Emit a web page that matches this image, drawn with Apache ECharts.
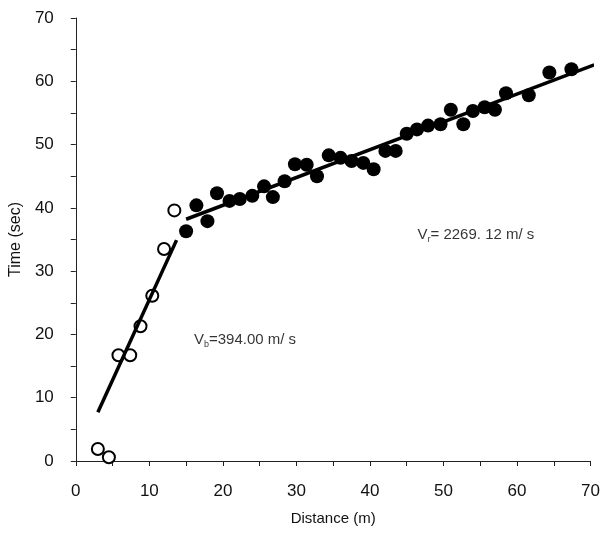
<!DOCTYPE html>
<html><head><meta charset="utf-8">
<script src="https://cdn.jsdelivr.net/npm/echarts@6/dist/echarts.min.js"></script>
<style>html,body{margin:0;padding:0;background:#fff}#c{width:603px;height:534px}</style>
</head><body><div id="c"></div>
<script>
// Direct-wave picks (open circles)
const directX = [3.0, 4.5, 5.8, 7.4, 8.8, 10.4, 12.0, 13.4];
const directY = [1.9, 0.6, 16.7, 16.7, 21.3, 26.1, 33.5, 39.6];
// Refracted-wave picks (filled circles)
const refrX = [15.0, 16.4, 17.9, 19.2, 20.9, 22.3, 24.0, 25.6, 26.8, 28.4, 29.8, 31.4, 32.8, 34.4, 36.0, 37.5, 39.1, 40.5, 42.1, 43.5, 45.0, 46.4, 47.9, 49.6, 51.0, 52.7, 54.0, 55.6, 57.0, 58.5, 61.6, 64.4, 67.4];
const refrY = [36.3, 40.4, 37.9, 42.3, 41.1, 41.4, 41.9, 43.4, 41.7, 44.2, 46.9, 46.8, 45.0, 48.3, 47.9, 47.4, 47.1, 46.1, 49.0, 49.0, 51.7, 52.4, 53.0, 53.2, 55.5, 53.2, 55.3, 55.9, 55.5, 58.1, 57.8, 61.4, 61.9];
// Fitted lines (endpoints)
const fitDirectX = [3.0, 13.7];
const fitDirectY = [7.7, 34.9];
const fitRefrX = [15.0, 70.5];
const fitRefrY = [38.2, 62.6];
// Annotations
const labelVb = { x: 16.0, y: 19.1, sub: 'b', text: '=394.00 m/ s' };
const labelVr = { x: 46.4, y: 35.7, sub: 'r', text: '= 2269. 12 m/ s' };
const xTicks = [0, 10, 20, 30, 40, 50, 60, 70];

const zip = (a, b) => a.map((v, i) => [v, b[i]]);
const font = 'Liberation Sans, Arial, sans-serif';
const tc = '#111';

const annot = (l) => ({
  type: 'scatter', symbol: 'circle', symbolSize: 1, silent: true,
  itemStyle: { color: 'rgba(0,0,0,0)' },
  labelLayout: { hideOverlap: false },
  data: [[l.x, l.y]],
  label: {
    show: true, position: 'right', distance: 0, color: '#000',
    formatter: '{a|V}{s|' + l.sub + '}{a|' + l.text + '}',
    rich: {
      a: { fontSize: 15, color: '#000', fontFamily: font },
      s: { fontSize: 9, color: '#000', fontFamily: font, padding: [9, 0, 0, 0] }
    }
  }
});

const chart = echarts.init(document.getElementById('c'));
chart.setOption({
  animation: false,
  backgroundColor: '#fff',
  grid: { left: 75, right: 11, top: 18, bottom: 73 },
  xAxis: {
    type: 'value', min: 0, max: 70, interval: 5,
    name: 'Distance (m)', nameLocation: 'middle', nameGap: 50,
    nameTextStyle: { fontSize: 15, color: tc, fontFamily: font },
    axisLine: { lineStyle: { color: '#222', width: 1 } },
    axisTick: { show: true, length: 5, lineStyle: { color: '#222' } },
    axisLabel: { fontSize: 17, color: tc, fontFamily: font, margin: 22,
      formatter: v => (xTicks.indexOf(v) >= 0 ? String(v) : '') },
    splitLine: { show: false }
  },
  yAxis: {
    type: 'value', min: 0, max: 70, interval: 5,
    name: 'Time (sec)', nameLocation: 'middle', nameGap: 50,
    nameTextStyle: { fontSize: 16, color: tc, fontFamily: font },
    axisLine: { show: true, lineStyle: { color: '#222', width: 1 } },
    axisTick: { show: true, length: 5, lineStyle: { color: '#222' } },
    axisLabel: { fontSize: 17, color: tc, fontFamily: font, margin: 22,
      formatter: v => (v % 10 === 0 ? String(v) : '') },
    splitLine: { show: false }
  },
  series: [
    { type: 'line', data: zip(fitDirectX, fitDirectY), symbol: 'none',
      lineStyle: { color: '#000', width: 3.5 }, silent: true },
    { type: 'line', data: zip(fitRefrX, fitRefrY), symbol: 'none',
      lineStyle: { color: '#000', width: 3.5 }, silent: true },
    { type: 'scatter', data: zip(directX, directY), symbol: 'circle', symbolSize: 12,
      itemStyle: { color: '#fff', borderColor: '#000', borderWidth: 2, opacity: 1 } },
    { type: 'scatter', data: zip(refrX, refrY), symbol: 'circle', symbolSize: 14,
      itemStyle: { color: '#000', borderWidth: 0, opacity: 1 } },
    annot(labelVb),
    annot(labelVr)
  ]
});
</script></body></html>
